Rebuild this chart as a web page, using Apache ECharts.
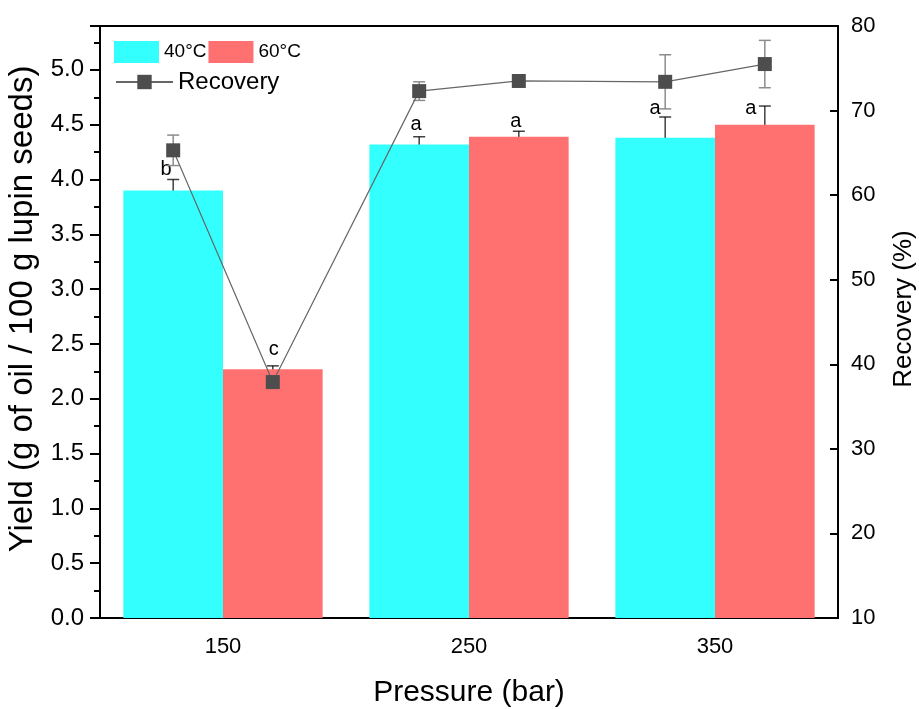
<!doctype html>
<html>
 <head>
  <meta charset="UTF-8">
  <script src="https://cdn.jsdelivr.net/npm/echarts@6/dist/echarts.min.js"></script>
  <title>Yield and recovery</title>
  <style>body{margin:0;background:#fff;overflow:hidden}</style>
 </head>
 <body>
  <div id="chart" style="width: 919px; height: 709px; margin: 0"></div>
 <script type="text/javascript">
    // data
    var pressures = ['150', '250', '350'];
    var pressureVals = [150, 250, 350];
    var yield40 = [3.90, 4.32, 4.38];
    var yield40Err = [0.10, 0.07, 0.19];
    var yield60 = [2.27, 4.39, 4.50];
    var yield60Err = [0.03, 0.05, 0.17];
    var letters40 = ['b', 'a', 'a'];
    var letters60 = ['c', 'a', 'a'];
    var letterY40 = [4.09, 4.50, 4.65];
    var letterY60 = [2.45, 4.53, 4.65];
    // recovery order: 150/40, 150/60, 250/40, 250/60, 350/40, 350/60
    var recovery = [65.3, 37.9, 72.3, 73.5, 73.4, 75.5];
    var recoveryErr = [1.8, 0.2, 1.1, 0.2, 3.2, 2.8];

    var FONT = '"Liberation Sans", Arial, sans-serif';
    var OFF = 20.25; // bar centre offset, in pressure units

    var barErrData = [], letterData = [], recData = [], recErrData = [];
    for (var i = 0; i < pressureVals.length; i++) {
        barErrData.push([pressureVals[i] - OFF, yield40[i], yield40Err[i]]);
        barErrData.push([pressureVals[i] + OFF, yield60[i], yield60Err[i]]);
        letterData.push([pressureVals[i] - OFF, letterY40[i], letters40[i]]);
        letterData.push([pressureVals[i] + OFF, letterY60[i], letters60[i]]);
        recData.push([pressureVals[i] - OFF, recovery[2 * i]]);
        recData.push([pressureVals[i] + OFF, recovery[2 * i + 1]]);
        recErrData.push([pressureVals[i] - OFF, recovery[2 * i], recoveryErr[2 * i]]);
        recErrData.push([pressureVals[i] + OFF, recovery[2 * i + 1], recoveryErr[2 * i + 1]]);
    }
    var letterDx = [-7, 1, -3, -3, -10, -14];

    function errRender(capW, color) {
        return function (params, api) {
            var x = api.value(0), y = api.value(1), e = api.value(2);
            var hi = api.coord([x, y + e]);
            var lo = api.coord([x, y - e]);
            var st = {stroke: color, lineWidth: 1.5};
            return {
                type: 'group',
                children: [
                    {type: 'line', shape: {x1: hi[0], y1: hi[1], x2: lo[0], y2: lo[1]}, style: st},
                    {type: 'line', shape: {x1: hi[0] - capW / 2, y1: hi[1], x2: hi[0] + capW / 2, y2: hi[1]}, style: st},
                    {type: 'line', shape: {x1: lo[0] - capW / 2, y1: lo[1], x2: lo[0] + capW / 2, y2: lo[1]}, style: st}
                ]
            };
        };
    }

    var myChart = echarts.init(document.getElementById('chart'));
    myChart.setOption({
        animation: false,
        textStyle: {fontFamily: FONT},
        grid: {left: 100, right: 81, top: 26, bottom: 91, outerBoundsMode: 'none', containLabel: false,
            show: true, borderColor: '#000', borderWidth: 2, backgroundColor: 'transparent'},
        legend: [{
            data: ['40°C', '60°C'],
            left: 114, top: 41, padding: 0,
            icon: 'rect',
            itemWidth: 45, itemHeight: 22, itemGap: 2,
            textStyle: {fontSize: 19, color: '#000', fontFamily: FONT}
        }, {
            data: ['Recovery'],
            left: 115, top: 70, padding: 0,
            itemWidth: 57, itemHeight: 18,
            textStyle: {fontSize: 24, color: '#000', fontFamily: FONT}
        }],
        xAxis: [{
            type: 'category',
            data: pressures,
            name: 'Pressure (bar)',
            nameLocation: 'middle',
            nameGap: 60,
            nameTextStyle: {fontSize: 30, color: '#000'},
            axisLine: {lineStyle: {color: '#000', width: 2}},
            axisTick: {alignWithLabel: true, length: 10, lineStyle: {color: '#000', width: 2}},
            axisLabel: {fontSize: 22, color: '#000', margin: 18}
        }, {
            type: 'value', min: 100, max: 400, show: false
        }],
        yAxis: [{
            type: 'value',
            min: 0, max: 5.4, interval: 0.5,
            name: 'Yield (g of oil / 100 g lupin seeds)',
            nameLocation: 'middle',
            nameRotate: 90,
            nameGap: 55,
            nameTextStyle: {fontSize: 33, color: '#000', padding: [0, 0, 0, 26]},
            axisLine: {show: true, lineStyle: {color: '#000', width: 2}},
            axisTick: {show: true, length: 10, lineStyle: {color: '#000', width: 2}},
            minorTick: {show: true, splitNumber: 2, length: 6, lineStyle: {color: '#000', width: 2}},
            axisLabel: {fontSize: 24, color: '#000', margin: 16, showMaxLabel: false,
                formatter: function (v) { return v.toFixed(1); }},
            splitLine: {show: false}
        }, {
            type: 'value',
            position: 'right',
            min: 10, max: 80, interval: 10,
            name: 'Recovery (%)',
            nameLocation: 'middle',
            nameRotate: 90,
            nameGap: 53,
            nameTextStyle: {fontSize: 26, color: '#000', padding: [0, 0, 0, 26]},
            axisLine: {show: true, lineStyle: {color: '#000', width: 2}},
            axisTick: {show: true, inside: true, length: 8, lineStyle: {color: '#000', width: 2}},
            axisLabel: {fontSize: 22, color: '#000', margin: 13},
            splitLine: {show: false}
        }],
        series: [{
            name: '40°C',
            type: 'bar',
            data: yield40,
            barGap: '0%',
            barCategoryGap: '19%',
            itemStyle: {color: '#33ffff'}
        }, {
            name: '60°C',
            type: 'bar',
            data: yield60,
            itemStyle: {color: '#ff7070'}
        }, {
            type: 'custom',
            xAxisIndex: 1, yAxisIndex: 0,
            data: barErrData,
            renderItem: errRender(12, 'rgba(0,0,0,0.75)'),
            silent: true
        }, {
            type: 'custom',
            xAxisIndex: 1, yAxisIndex: 0,
            data: letterData,
            renderItem: function (params, api) {
                var p = api.coord([api.value(0), api.value(1)]);
                return {
                    type: 'text',
                    x: p[0] + letterDx[params.dataIndex], y: p[1],
                    style: {text: letterData[params.dataIndex][2], fill: '#000', font: '20px ' + FONT,
                        textAlign: 'center', textVerticalAlign: 'middle'}
                };
            },
            silent: true
        }, {
            type: 'custom',
            xAxisIndex: 1, yAxisIndex: 1,
            data: recErrData,
            renderItem: errRender(12, '#8c8c8c'),
            silent: true
        }, {
            name: 'Recovery',
            type: 'line',
            xAxisIndex: 1, yAxisIndex: 1,
            data: recData,
            symbol: 'rect',
            symbolSize: 14,
            lineStyle: {color: '#666', width: 1.2},
            itemStyle: {color: '#4d4d4d'}
        }]
    });
 </script>
 </body>
</html>
